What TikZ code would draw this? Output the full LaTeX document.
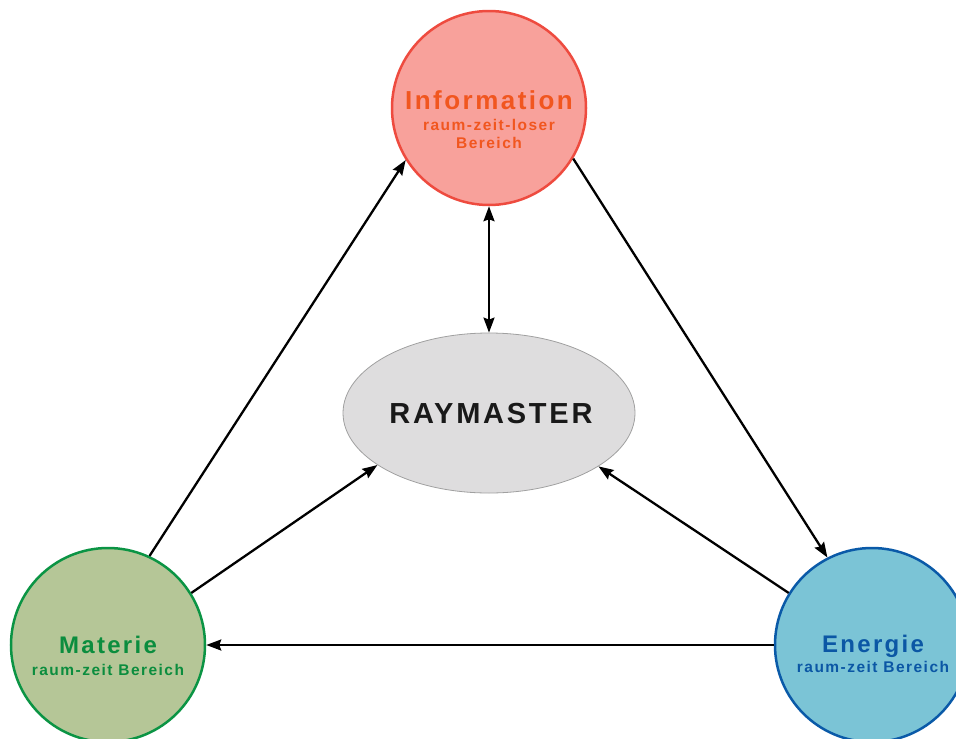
\documentclass[tikz,border=0pt]{standalone}
\usepackage{fontspec}
\setmainfont{Liberation Sans}
\newfontfamily\spacedfont[LetterSpace=9.5]{Liberation Sans}
\usetikzlibrary{arrows.meta,shapes.geometric}

\definecolor{infofill}{HTML}{F8A19B}
\definecolor{infoline}{HTML}{EE4B3F}
\definecolor{infotext}{HTML}{F1561F}
\definecolor{matfill}{HTML}{B5C697}
\definecolor{matline}{HTML}{0B9444}
\definecolor{mattext}{HTML}{0B8D3E}
\definecolor{enfill}{HTML}{7BC4D6}
\definecolor{enline}{HTML}{0A5AA8}
\definecolor{entext}{HTML}{0B57A5}
\definecolor{rayfill}{HTML}{DEDDDE}
\definecolor{rayline}{HTML}{A0A0A0}

\tikzset{
  sphere/.style={draw,circle,line width=2.5pt,inner sep=0pt,minimum size=194pt},
  title/.style={anchor=base,inner sep=0pt,font=\spacedfont\bfseries\fontsize{#1}{#1}\selectfont},
  sub/.style={anchor=base,inner sep=0pt,font=\spacedfont\bfseries\fontsize{15.5}{15.5}\selectfont},
  link/.style={line width=2.3pt,arrows={-Stealth[length=15pt,width=11pt,inset=2pt]}},
  duallink/.style={line width=2.3pt,arrows={Stealth[length=15pt,width=11pt,inset=2pt]-Stealth[length=15pt,width=11pt,inset=2pt]}},
}

\begin{document}
\begin{tikzpicture}[x=1pt,y=-1pt]
  \useasboundingbox (0,0) rectangle (956,739);
  % the three realms
  \node[sphere,fill=infofill,draw=infoline] (inf) at (489,108) {};
  \node[title=26,text=infotext] (inft) at (489,109) {Information};
  \node[sub,text=infotext] (infs) at (489,130) {raum-zeit-loser};
  \node[sub,text=infotext] (infb) at (489,148) {Bereich};
  \node[sphere,fill=matfill,draw=matline] (mat) at (108,645) {};
  \node[title=24,text=mattext] (matt) at (108,653) {Materie};
  \node[sub,text=mattext] (mats) at (108,675) {raum-zeit Bereich};
  \node[sphere,fill=enfill,draw=enline] (en) at (872,645) {};
  \node[title=24,text=entext] (ent) at (873,652) {Energie};
  \node[sub,text=entext] (ens) at (873,672) {raum-zeit Bereich};
  % centre
  \node[draw=rayline,fill=rayfill,ellipse,line width=0.8pt,minimum width=292pt,minimum height=160pt,inner sep=0pt] (ray) at (489,413) {};
  \node[title=29,text=black!90] (rayt) at (491,423) {RAYMASTER};
  % connectors
  \draw[link] (mat.65) -- (inf.212);
  \draw[link] (inf.-31) -- (en.117);
  \draw[link] (en.west) -- (mat.east);
  \draw[duallink] (inf.south) -- (ray.north);
  \draw[link] (mat.32) -- (ray.205);
  \draw[link] (en.148) -- (ray.-26);
\end{tikzpicture}
\end{document}
